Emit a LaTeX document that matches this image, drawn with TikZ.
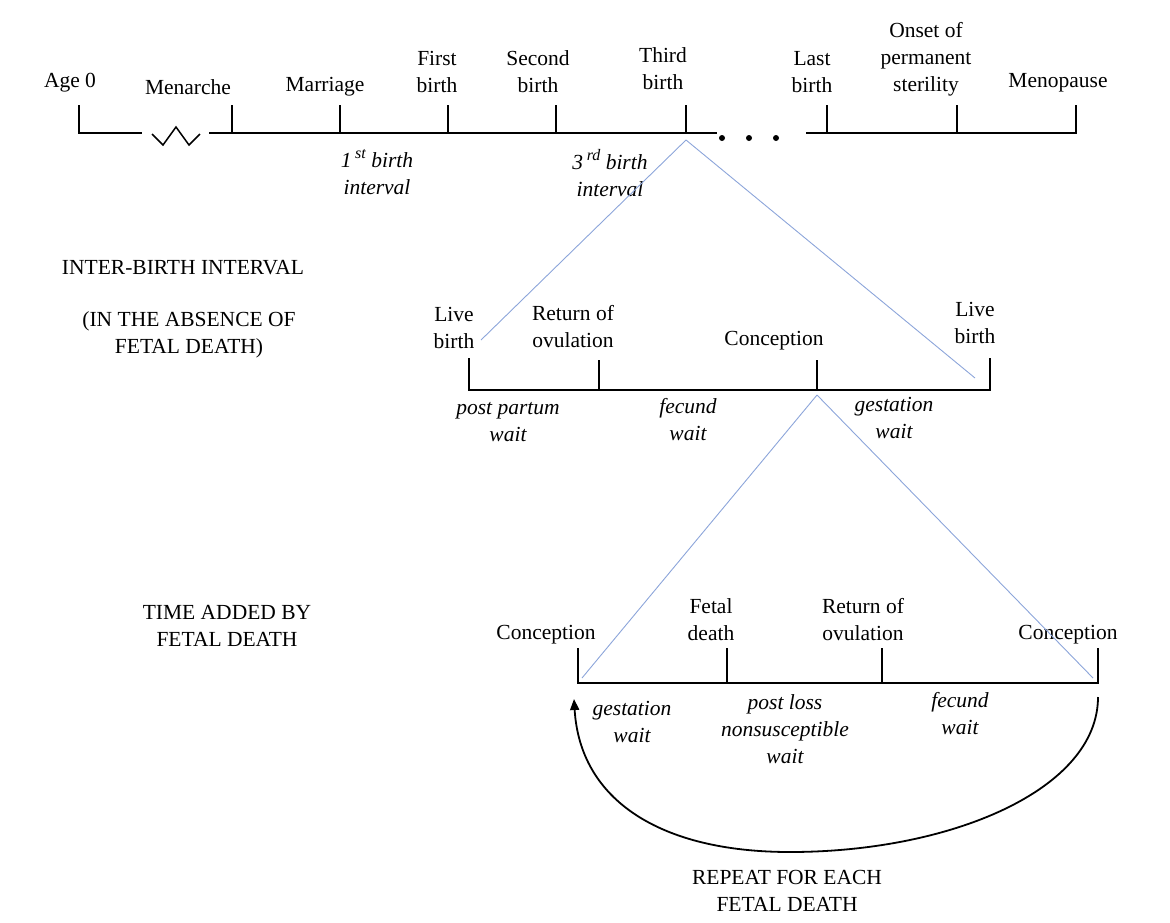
\documentclass[tikz,border=0pt]{standalone}
\usepackage{fontspec}
\setmainfont{Liberation Serif}
\usetikzlibrary{arrows.meta}
\definecolor{zoomblue}{RGB}{140,165,218}
\newcommand{\mysup}[1]{\,\raisebox{0.42em}{\fontsize{16}{16}\selectfont #1}}
\tikzset{
  lbl/.style={inner sep=0pt, align=center, font=\fontsize{21.5}{27}\selectfont},
  ilbl/.style={lbl, font=\fontsize{21.5}{27}\selectfont\itshape},
  axis/.style={line width=1.8pt, line cap=butt, line join=miter},
  zoomline/.style={draw=zoomblue, line width=0.9pt},
}
\begin{document}
\begin{tikzpicture}[x=1pt,y=-1pt]
\useasboundingbox (0,0) rectangle (1170,922);
% ---------- top timeline ----------
\coordinate (a0t) at (79,105);
\coordinate (a0b) at (79,133);
\coordinate (za) at (142,133);
\coordinate (zb) at (209,133);
\coordinate (dotend) at (717,133);
\coordinate (rstart) at (806,133);
\coordinate (menob) at (1076,133);
\coordinate (menot) at (1076,105);
\draw[axis] (a0t) -- (a0b) -- (za);
\draw[axis, line width=1.5pt] (152,134) -- (163,145) -- (176,127) -- (189,145) -- (200,134);
\draw[axis] (zb) -- (dotend);
\foreach \x/\n in {232/men,340/mar,448/fb,556/sb,686/tb}{
  \coordinate (\n t) at (\x,105);
  \coordinate (\n b) at (\x,133);
  \draw[axis] (\n t) -- (\n b);
}
\foreach \x/\n in {722/d1,749/d2,776/d3}{
  \fill (\x,138) circle (3pt) coordinate (\n);
}
\draw[axis] (rstart) -- (menob) -- (menot);
\foreach \x/\n in {827/lb,957/ons}{
  \coordinate (\n t) at (\x,105);
  \coordinate (\n b) at (\x,133);
  \draw[axis] (\n t) -- (\n b);
}
\node[lbl] (age0) at (70,83) {Age 0};
\node[lbl] (menarche) at (188,87) {Menarche};
\node[lbl] (marriage) at (325,87) {Marriage};
\node[lbl] (first) at (437,72) {First\\birth};
\node[lbl] (second) at (538,72) {Second\\birth};
\node[lbl] (third) at (663,69) {Third\\birth};
\node[lbl] (last) at (812,72) {Last\\birth};
\node[lbl] (onset) at (926,59) {Onset of\\permanent\\sterility};
\node[lbl] (menopause) at (1058,83) {Menopause};
\node[ilbl] (int1) at (377,172) {1\mysup{st} birth\\interval};
\node[ilbl] (int3) at (610,173) {3\mysup{rd} birth\\interval};
% ---------- left labels ----------
\node[lbl] (ibi) at (183,268) {INTER-BIRTH INTERVAL};
\node[lbl] (absence) at (189,335) {(IN THE ABSENCE OF\\FETAL DEATH)};
\node[lbl] (added) at (227,626) {TIME ADDED BY\\FETAL DEATH};
% ---------- middle timeline ----------
\coordinate (m1t) at (469,358);
\coordinate (m1b) at (469,390);
\coordinate (m4b) at (990,390);
\coordinate (m4t) at (990,358);
\coordinate (m2t) at (599,360);
\coordinate (m2b) at (599,390);
\coordinate (m3t) at (817,360);
\coordinate (m3b) at (817,390);
\draw[axis] (m1t) -- (m1b) -- (m4b) -- (m4t);
\draw[axis] (m2t) -- (m2b);
\draw[axis] (m3t) -- (m3b);
\node[lbl] (live1) at (454,328) {Live\\birth};
\node[lbl] (retov1) at (573,327) {Return of\\ovulation};
\node[lbl] (concep1) at (774,341) {Conception};
\node[lbl] (live2) at (975,323) {Live\\birth};
\node[ilbl] (ppw) at (508,422) {post partum\\wait};
\node[ilbl] (fw) at (688,420) {fecund\\wait};
\node[ilbl] (gw) at (894,418) {gestation\\wait};
% zoom lines top -> middle
\coordinate (zt) at (686,140);
\coordinate (zl) at (481,340);
\coordinate (zr) at (975,378);
\draw[zoomline] (zt) -- (zl);
\draw[zoomline] (zt) -- (zr);
% ---------- bottom timeline ----------
\coordinate (b1t) at (578,648);
\coordinate (b1b) at (578,683);
\coordinate (b4b) at (1098,683);
\coordinate (b4t) at (1098,648);
\coordinate (b2t) at (727,648);
\coordinate (b2b) at (727,683);
\coordinate (b3t) at (882,648);
\coordinate (b3b) at (882,683);
\draw[axis] (b1t) -- (b1b) -- (b4b) -- (b4t);
\draw[axis] (b2t) -- (b2b);
\draw[axis] (b3t) -- (b3b);
\node[lbl] (concep2) at (546,635) {Conception};
\node[lbl] (fetal) at (711,620) {Fetal\\death};
\node[lbl] (retov2) at (863,620) {Return of\\ovulation};
\node[lbl] (concep3) at (1068,635) {Conception};
\node[ilbl] (gw2) at (632,722) {gestation\\wait};
\node[ilbl] (plnw) at (785,729) {post loss\\nonsusceptible\\wait};
\node[ilbl] (fw2) at (960,714) {fecund\\wait};
% zoom lines middle -> bottom
\coordinate (zt2) at (817,395);
\coordinate (zl2) at (582,678);
\coordinate (zr2) at (1093,678);
\draw[zoomline] (zt2) -- (zl2);
\draw[zoomline] (zt2) -- (zr2);
% ---------- repeat arc ----------
\coordinate (arcs) at (1098,697);
\coordinate (arcm) at (790,852);
\coordinate (arce) at (574,699);
\draw[line width=1.8pt, -{Triangle[length=11pt,width=9pt]}] (arcs) .. controls (1098,790) and (950,852) .. (arcm) .. controls (660,852) and (580,800) .. (arce);
\node[lbl] (repeat) at (787,891) {REPEAT FOR EACH\\FETAL DEATH};
\end{tikzpicture}
\end{document}
